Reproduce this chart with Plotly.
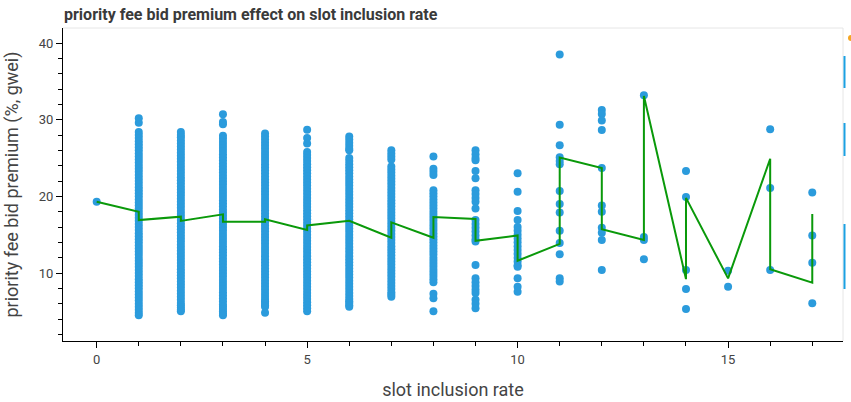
import plotly.graph_objects as go

# ---- data ----
slots = list(range(18))

premium_by_slot = {
    0: [19.3],
    1: [30.2, 29.6, 28.4, 28.0, 27.6, 27.2, 26.8, 26.4, 26.0, 25.6, 25.2, 24.8, 24.4, 24.0, 23.6,
        23.2, 22.8, 22.4, 22.0, 21.6, 21.2, 20.8, 20.4, 20.0, 19.6, 19.2, 18.8, 18.4, 18.0, 17.6,
        17.2, 16.8, 16.4, 16.0, 15.6, 15.2, 14.8, 14.4, 14.0, 13.6, 13.2, 12.8, 12.4, 12.0, 11.6,
        11.2, 10.8, 10.4, 10.0, 9.6, 9.2, 8.8, 8.4, 8.0, 7.6, 7.2, 6.8, 6.4, 6.0, 5.6, 5.2, 4.8, 4.5],
    2: [28.4, 28.0, 27.7, 27.3, 26.9, 26.5, 26.1, 25.7, 25.3, 24.9, 24.5, 24.1, 23.7, 23.3, 22.9,
        22.5, 22.1, 21.7, 21.3, 20.9, 20.5, 20.1, 19.7, 19.3, 18.9, 18.5, 18.1, 17.7, 17.3, 16.9,
        16.5, 16.1, 15.7, 15.3, 14.9, 14.5, 14.1, 13.7, 13.3, 12.9, 12.5, 12.1, 11.7, 11.3, 10.9,
        10.5, 10.1, 9.7, 9.3, 8.9, 8.5, 8.1, 7.7, 7.3, 6.9, 6.5, 6.1, 5.8, 5.5, 5.2, 5.0],
    3: [30.7, 29.7, 29.4, 27.9, 27.5, 27.1, 26.7, 26.3, 25.9, 25.5, 25.1, 24.7, 24.3, 23.9, 23.5,
        23.1, 22.7, 22.3, 21.9, 21.5, 21.1, 20.7, 20.3, 19.9, 19.5, 19.1, 18.7, 18.3, 17.9, 17.5,
        17.1, 16.7, 16.3, 15.9, 15.5, 15.1, 14.7, 14.3, 13.9, 13.5, 13.1, 12.7, 12.3, 11.9, 11.5,
        11.1, 10.7, 10.3, 9.9, 9.5, 9.1, 8.7, 8.3, 7.9, 7.5, 7.1, 6.7, 6.3, 5.9, 5.6, 5.3, 5.0, 4.7, 4.5],
    4: [28.2, 27.8, 27.4, 27.0, 26.6, 26.2, 25.8, 25.4, 25.0, 24.6, 24.2, 23.8, 23.4, 23.0, 22.6,
        22.2, 21.8, 21.4, 21.0, 20.6, 20.2, 19.8, 19.4, 19.0, 18.6, 18.2, 17.8, 17.4, 17.0, 16.6,
        16.2, 15.8, 15.4, 15.0, 14.6, 14.2, 13.8, 13.4, 13.0, 12.6, 12.2, 11.8, 11.4, 11.0, 10.6,
        10.2, 9.8, 9.4, 9.0, 8.6, 8.2, 7.8, 7.4, 7.0, 6.6, 6.3, 6.1, 5.8, 5.6, 4.8],
    5: [28.7, 27.6, 26.9, 25.8, 25.4, 25.0, 24.6, 24.2, 23.8, 23.4, 23.0, 22.6, 22.2, 21.8, 21.4,
        21.0, 20.6, 20.2, 19.8, 19.4, 19.0, 18.6, 18.2, 17.8, 17.4, 17.0, 16.6, 16.2, 15.8, 15.4,
        15.0, 14.6, 14.2, 13.8, 13.4, 13.0, 12.6, 12.2, 11.8, 11.4, 11.0, 10.6, 10.2, 9.8, 9.4,
        9.0, 8.6, 8.2, 7.8, 7.4, 7.0, 6.6, 6.2, 5.8, 5.4, 5.0],
    6: [27.8, 27.4, 27.0, 26.6, 26.2, 26.0, 25.0, 24.6, 24.2, 23.8, 23.4, 23.0, 22.6, 22.2, 21.8,
        21.4, 21.0, 20.6, 20.2, 19.8, 19.4, 19.0, 18.6, 18.2, 17.8, 17.4, 17.0, 16.6, 16.2, 15.8,
        15.4, 15.0, 14.6, 14.2, 13.8, 13.4, 13.0, 12.6, 12.2, 11.8, 11.4, 11.0, 10.6, 10.2, 9.8,
        9.4, 9.0, 8.6, 8.2, 7.8, 7.4, 7.0, 6.6, 6.3, 6.1, 5.8, 5.6],
    7: [26.0, 25.6, 25.2, 24.8, 23.9, 23.5, 23.1, 22.7, 22.3, 21.9, 21.5, 21.1, 20.7, 20.3, 19.9,
        19.5, 19.1, 18.7, 18.3, 17.9, 17.5, 17.1, 16.7, 16.3, 15.9, 15.5, 15.1, 14.7, 14.3, 13.9,
        13.5, 13.1, 12.7, 12.3, 11.9, 11.5, 11.1, 10.7, 10.3, 9.9, 9.5, 9.1, 8.7, 8.3, 7.9, 7.5,
        7.2, 6.9],
    8: [25.2, 23.6, 23.2, 22.8, 20.8, 20.4, 20.0, 19.6, 19.2, 18.8, 18.4, 18.0, 17.6, 17.2, 16.8,
        16.4, 16.0, 15.6, 15.2, 14.8, 14.4, 14.0, 13.6, 13.2, 12.8, 12.4, 12.0, 11.6, 11.2, 10.8,
        10.4, 10.0, 9.6, 9.2, 8.8, 7.3, 6.7, 5.0],
    9: [26.0, 25.5, 25.0, 24.7, 23.3, 22.35, 20.8, 20.3, 19.8, 19.3, 18.4, 16.9, 16.4, 15.9, 15.4,
        14.9, 14.4, 14.1, 11.05, 9.3, 8.8, 8.3, 7.8, 7.4, 6.5, 6.0, 5.4],
    10: [23.0, 20.6, 18.1, 16.9, 16.0, 15.5, 15.0, 14.5, 14.0, 13.5, 13.0, 12.5, 12.0, 11.5, 11.0,
         10.8, 9.3, 8.2, 7.55],
    11: [38.5, 29.35, 26.65, 25.1, 24.6, 24.2, 20.7, 19.0, 17.9, 15.5, 13.9, 12.45, 9.3, 8.9],
    12: [31.25, 30.75, 29.9, 28.65, 23.7, 18.8, 18.0, 15.9, 15.25, 14.3, 10.4],
    13: [33.2, 14.7, 14.3, 11.8],
    14: [23.3, 19.9, 10.4, 7.9, 5.3],
    15: [10.3, 8.2],
    16: [28.75, 21.1, 10.4],
    17: [20.5, 14.9, 11.35, 6.05],
}

# running line: entry / exit value at each slot
line_x = [0, 1, 1, 2, 2, 3, 3, 4, 4, 5, 5, 6, 6, 7, 7, 8, 8, 9, 9,
          10, 10, 11, 11, 12, 12, 13, 13, 14, 14, 15, 16, 16, 17, 17]
line_y = [19.3, 18.0, 16.9, 17.35, 16.8, 17.65, 16.7, 16.7, 17.0, 15.6, 16.2, 16.8, 16.8,
          14.6, 16.6, 14.6, 17.3, 17.05, 14.2, 14.9, 11.6, 13.8, 25.05, 23.7, 15.7,
          14.3, 33.1, 9.2, 19.8, 9.3, 24.9, 10.5, 8.75, 17.7]

x_ticks = [0, 5, 10, 15]
y_ticks = [10, 20, 30, 40]

title_text = "priority fee bid premium effect on slot inclusion rate"
x_title = "slot inclusion rate"
y_title = "priority fee bid premium (%, gwei)"

# ---- build figure ----
pts_x, pts_y = [], []
for s in slots:
    for v in premium_by_slot[s]:
        pts_x.append(s)
        pts_y.append(v)

FONT = "Roboto"
TXT = "#444444"

fig = go.Figure()
fig.add_trace(go.Scatter(
    x=pts_x, y=pts_y, mode="markers",
    marker=dict(size=8, color="#2b9bdc", line=dict(width=0)),
    showlegend=False, hoverinfo="skip"))
fig.add_trace(go.Scatter(
    x=line_x, y=line_y, mode="lines",
    line=dict(color="#0a990a", width=2),
    showlegend=False, hoverinfo="skip"))

axis_common = dict(
    showgrid=False, zeroline=False,
    showline=True, linecolor="black", linewidth=1,
    ticks="outside", ticklen=6, tickcolor="black", tickwidth=1,
    tickfont=dict(family=FONT, size=13, color=TXT),
)

fig.update_layout(
    width=851, height=402,
    margin=dict(l=63, r=8, t=28, b=61, autoexpand=False),
    paper_bgcolor="white", plot_bgcolor="white",
    title=dict(text="<b>" + title_text + "</b>", x=64 / 851, xref="container", xanchor="left",
               y=1 - 14 / 402, yref="container", yanchor="middle",
               font=dict(family=FONT, size=16, color="#3a3a3a")),
    xaxis=dict(range=[-0.8, 17.73], tickvals=x_ticks,
               minor=dict(dtick=1, ticklen=4, ticks="outside", tickcolor="black"),
               title=dict(text=x_title, font=dict(family=FONT, size=18, color=TXT), standoff=17),
               automargin=False, **axis_common),
    yaxis=dict(range=[1.13, 41.96], tickvals=y_ticks,
               minor=dict(dtick=2, ticklen=4, ticks="outside", tickcolor="black"),
               title=dict(text=y_title, font=dict(family=FONT, size=18, color=TXT), standoff=15),
               automargin=False, **axis_common),
    shapes=[
        # light frame on top/right
        dict(type="line", xref="paper", yref="paper", x0=0, x1=1, y0=1, y1=1,
             line=dict(color="#e6e6e6", width=1)),
        dict(type="line", xref="paper", yref="paper", x0=1, x1=1, y0=0, y1=1,
             line=dict(color="#e6e6e6", width=1)),
        # clipped toolbar fragments
        dict(type="rect", xref="paper", yref="paper",
             x0=1 + 0.5 / 780, x1=1 + 2.5 / 780, y0=(341 - 88) / 313, y1=(341 - 56) / 313,
             line=dict(width=0), fillcolor="#1ba1e2"),
        dict(type="rect", xref="paper", yref="paper",
             x0=1 + 0.5 / 780, x1=1 + 2.5 / 780, y0=(341 - 156) / 313, y1=(341 - 123) / 313,
             line=dict(width=0), fillcolor="#1ba1e2"),
        dict(type="rect", xref="paper", yref="paper",
             x0=1 + 0.5 / 780, x1=1 + 2.5 / 780, y0=(341 - 289) / 313, y1=(341 - 224) / 313,
             line=dict(width=0), fillcolor="#1ba1e2"),
        dict(type="circle", xref="paper", yref="paper",
             x0=1 + 5 / 780, x1=1 + 11 / 780, y0=(341 - 41) / 313, y1=(341 - 35) / 313,
             line=dict(width=0), fillcolor="#f5a623"),
    ],
)

fig.write_html("out.html")
